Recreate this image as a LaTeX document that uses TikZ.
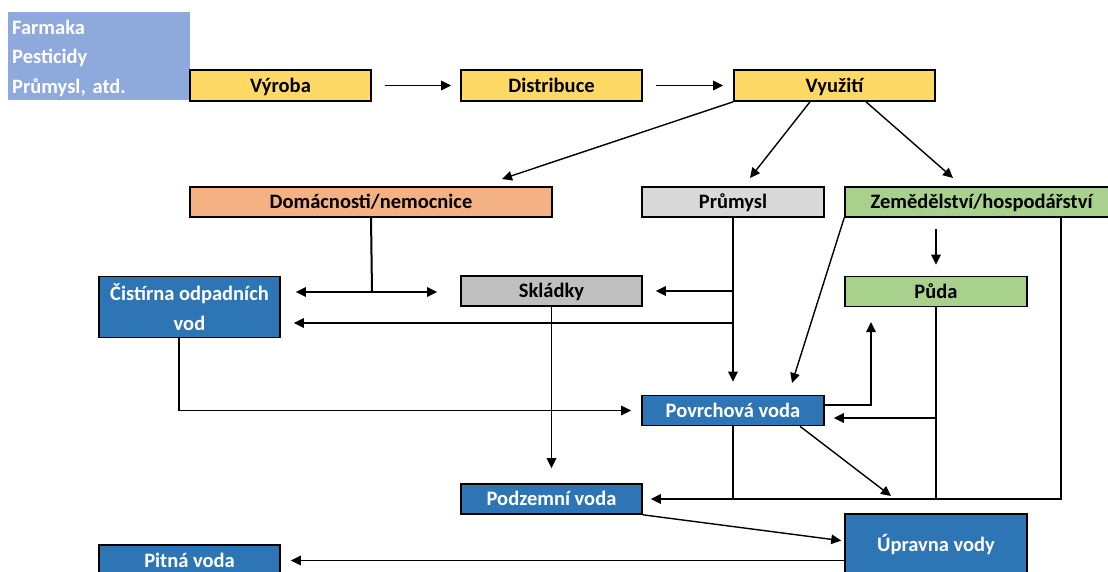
\documentclass[tikz,border=0pt]{standalone}
\usepackage{fontspec}
\setmainfont{Carlito}
\usetikzlibrary{arrows.meta,calc}
\definecolor{farmc}{HTML}{8EA9DB}
\definecolor{yel}{HTML}{FFD966}
\definecolor{ora}{HTML}{F4B183}
\definecolor{lgray}{HTML}{D9D9D9}
\definecolor{mgray}{HTML}{BFBFBF}
\definecolor{grn}{HTML}{A9D18E}
\definecolor{blu}{HTML}{2E75B6}
\tikzset{
  every node/.style={font=\bfseries\fontsize{20.5}{29.5}\selectfont},
  box/.style={draw=black, line width=1.6pt, inner sep=0pt, align=center, text height=17pt, text depth=3.8pt},
  ybox/.style={box, fill=yel, text=black},
  obox/.style={box, fill=ora, text=black},
  gbox/.style={box, fill=lgray, text=black},
  sbox/.style={box, fill=mgray, text=black},
  grbox/.style={box, fill=grn, text=black},
  bbox/.style={box, fill=blu, text=white},
  conn/.style={line width=1.4pt, black},
  arr/.style={conn, -{Triangle[length=10pt,width=9.5pt]}},
}
\begin{document}
\begin{tikzpicture}[x=1pt,y=-1pt]
\useasboundingbox (0,0) rectangle (1108,571);
\clip (0,0) rectangle (1108,571);
\fill[white] (0,0) rectangle (1108,571);
% source box
\fill[farmc] (8,12) rectangle (190,100);
\node[text=white, text width=176pt, inner sep=0pt, align=left, anchor=west] (farm) at (12,58) {Farmaka\\Pesticidy\\Průmysl, atd.};
% nodes
\node[ybox, minimum width=181pt, minimum height=31pt] (vyroba) at (280.5,85.5) {Výroba};
\node[ybox, minimum width=181pt, minimum height=31pt] (distr) at (551.5,85.5) {Distribuce};
\node[ybox, minimum width=201pt, minimum height=31pt] (vyuz) at (834.5,85.5) {Využití};
\node[obox, minimum width=362pt, minimum height=30pt] (dom) at (371,202) {Domácnosti/nemocnice};
\node[gbox, minimum width=182pt, minimum height=30pt] (prum) at (733,202) {Průmysl};
\node[grbox, minimum width=273pt, minimum height=30pt] (zem) at (981.5,202) {Zemědělství/hospodářství};
\node[bbox, text height=, text depth=, minimum width=181pt, minimum height=61pt] (cist) at (189.5,307) {Čistírna odpadních\\vod};
\node[sbox, minimum width=181pt, minimum height=30pt] (sklad) at (551.5,291) {Skládky};
\node[grbox, minimum width=182pt, minimum height=30pt] (puda) at (936,291.5) {Půda};
\node[bbox, minimum width=182pt, minimum height=30pt] (povrch) at (733,410.5) {Povrchová voda};
\node[bbox, minimum width=181pt, minimum height=30pt] (podz) at (551.5,499) {Podzemní voda};
\node[bbox, minimum width=182pt, minimum height=62pt] (uprav) at (936,545) {Úpravna vody};
\node[bbox, minimum width=181pt, minimum height=31pt] (pitna) at (189.5,560.5) {Pitná voda};
% helper coordinates (free ends / junctions)
\coordinate (domIn) at (502,179);
\coordinate (prumIn) at (750,178);
\coordinate (zemIn) at (953,178);
\coordinate (dj) at (372,292);
\coordinate (pj2) at (733,323);
\coordinate (zemPov) at (792,383);
\coordinate (pudaIn) at (871,322);
\coordinate (pdj) at (936,418);
\coordinate (diagEnd) at (891,496);
% top chain
\draw[arr, shorten <=13pt, shorten >=9pt] (vyroba) -- (distr);
\draw[arr, shorten <=13pt, shorten >=10pt] (distr) -- (vyuz);
% from Vyuziti
\draw[arr] (vyuz.south west) -- (domIn);
\draw[arr] ([xshift=-24.5pt]vyuz.south) -- (prumIn);
\draw[arr] ([xshift=31.5pt]vyuz.south) -- (zemIn);
% Domacnosti
\draw[conn, line width=2pt] (dom.south) -- (dj);
\draw[arr, line width=1.8pt, shorten >=15pt] (dj) -- (cist.east |- dj);
\draw[arr, line width=1.8pt, shorten >=23pt] (dj) -- (sklad.west |- dj);
% Prumysl
\draw[arr, shorten >=13pt] (prum.south) -- (povrch.north);
\draw[arr, shorten >=13pt] (prum.south |- sklad.east) -- (sklad.east);
\draw[arr, shorten >=13pt] (pj2) -- (cist.east |- pj2);
% Skladky
\draw[arr, shorten >=15pt] (sklad.south) -- (podz.north);
% Cistirna
\draw[arr, shorten >=10pt] ([xshift=-10.5pt]cist.south) |- (povrch.west);
% Zemedelstvi
\draw[arr, shorten <=11pt, shorten >=11pt] (zem.south -| puda.north) -- (puda.north);
\draw[arr] (zem.south west) -- (zemPov);
\draw[arr, shorten >=8pt] ([xshift=79.5pt]zem.south) |- (podz.east);
% Povrchova voda
\draw[arr] ([yshift=5.5pt]povrch.east) -| (pudaIn);
\draw[conn] (povrch.south) -- (povrch.south |- podz.east);
\draw[arr] ([xshift=67pt]povrch.south) -- (diagEnd);
% Puda
\draw[conn] (puda.south) -- (puda.south |- podz.east);
\draw[arr, shorten >=9pt] (pdj) -- (povrch.east |- pdj);
% Podzemni -> Upravna -> Pitna
\draw[arr, shorten >=3pt] (podz.south east) -- ([yshift=4pt]uprav.west);
\draw[arr, shorten >=10pt] (uprav.west |- pitna.east) -- (pitna.east);
\end{tikzpicture}
\end{document}
